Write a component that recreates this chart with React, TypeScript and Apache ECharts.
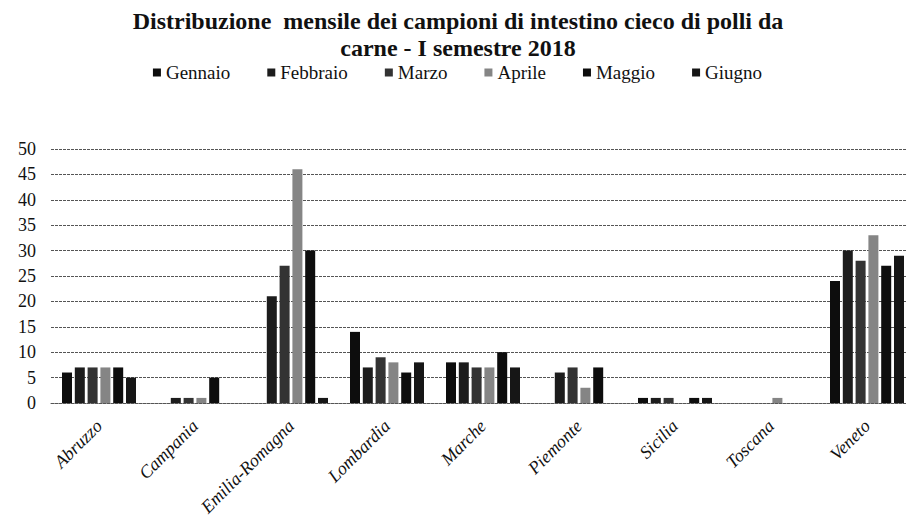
import React, { useEffect, useRef } from "react";
import * as echarts from "echarts";

const regions = ["Abruzzo", "Campania", "Emilia-Romagna", "Lombardia", "Marche", "Piemonte", "Sicilia", "Toscana", "Veneto"];
const months = ["Gennaio", "Febbraio", "Marzo", "Aprile", "Maggio", "Giugno"];
const gennaio = [6, 0, 0, 14, 8, 0, 1, 0, 24];
const febbraio = [7, 1, 21, 7, 8, 6, 1, 0, 30];
const marzo = [7, 1, 27, 9, 7, 7, 1, 0, 28];
const aprile = [7, 1, 46, 8, 7, 3, 0, 1, 33];
const maggio = [7, 5, 30, 6, 10, 7, 1, 0, 27];
const giugno = [5, 0, 1, 8, 7, 0, 1, 0, 29];
const seriesValues = [gennaio, febbraio, marzo, aprile, maggio, giugno];
const colors = ["#0d0d0d", "#1c1c1c", "#333333", "#858585", "#0d0d0d", "#161616"];
const titleText = "Distribuzione  mensile dei campioni di intestino cieco di polli da\ncarne - I semestre 2018";

export default function App() {
  const ref = useRef<HTMLDivElement>(null);
  useEffect(() => {
    if (!ref.current) return;
    const chart = echarts.init(ref.current, undefined, { renderer: "svg" });
    const serif = "Liberation Serif";
    chart.setOption({
      animation: false,
      backgroundColor: "#ffffff",
      textStyle: { fontFamily: serif },
      title: {
        text: titleText,
        left: 453,
        textAlign: "center",
        top: 2,
        textStyle: { fontFamily: serif, fontWeight: "bold", fontSize: 24, color: "#111", lineHeight: 27 },
      },
      legend: {
        data: months,
        left: "center",
        top: 58,
        icon: "rect",
        itemWidth: 8,
        itemHeight: 8,
        itemGap: 37,
        textStyle: { fontFamily: serif, fontWeight: 400, fontSize: 19, color: "#111" },
      },
      grid: { left: 51, width: 864, top: 149, bottom: 129, containLabel: false },
      xAxis: {
        type: "category",
        data: regions,
        axisTick: { show: false },
        axisLine: { show: true, lineStyle: { color: "#555", width: 1, type: [3, 1] } },
        axisLabel: {
          rotate: 45,
          margin: 20,
          interval: 0,
          fontFamily: serif,
          fontStyle: "italic",
          fontWeight: 400,
          fontSize: 18,
          color: "#111",
        },
      },
      yAxis: {
        type: "value",
        min: 0,
        max: 50,
        interval: 5,
        axisLine: { show: false },
        axisTick: { show: false },
        axisLabel: { fontFamily: serif, fontWeight: 400, fontSize: 18, color: "#111", margin: 15 },
        splitLine: { lineStyle: { color: "#555", width: 1, type: [3, 1] } },
      },
      series: months.map((m, i) => ({
        name: m,
        type: "bar",
        data: seriesValues[i],
        barWidth: 10,
        barGap: "28%",
        itemStyle: { color: colors[i] },
      })),
    });
    return () => chart.dispose();
  }, []);
  return <div ref={ref} style={{ position: "fixed", left: 0, top: 0, width: 915, height: 532 }} />;
}
